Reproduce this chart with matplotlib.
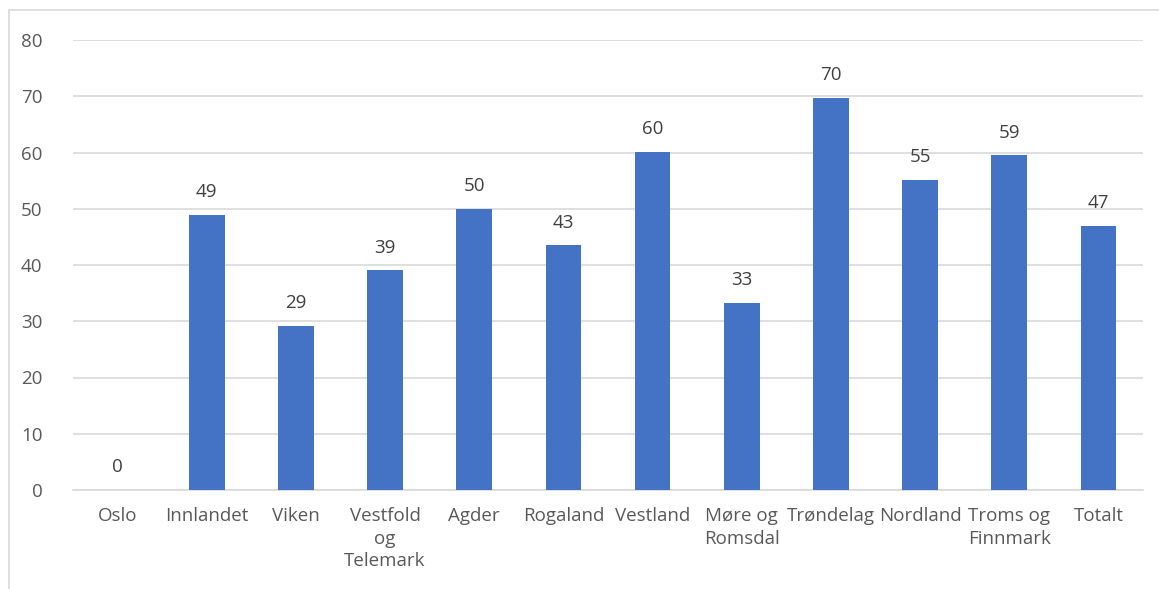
import matplotlib.pyplot as plt
from matplotlib.patches import Rectangle

categories = ["Oslo", "Innlandet", "Viken", "Vestfold\nog\nTelemark", "Agder", "Rogaland",
              "Vestland", "Møre og\nRomsdal", "Trøndelag", "Nordland", "Troms og\nFinnmark", "Totalt"]
values = [0, 48.9, 29.2, 39.1, 50.0, 43.5, 60.1, 33.3, 69.7, 55.2, 59.5, 47.0]
labels = ["0", "49", "29", "39", "50", "43", "60", "33", "70", "55", "59", "47"]

plt.rcParams['font.family'] = ['Open Sans', 'DejaVu Sans']
text_color = "#595959"

fig = plt.figure(figsize=(11.59, 5.89), dpi=100)
ax = fig.add_axes([73/1159, 99/589, 1070/1159, 450/589])

x = range(len(categories))
ax.bar(x, values, width=0.4, color="#4472C4", zorder=3)
for i, (v, lab) in enumerate(zip(values, labels)):
    ax.text(i, v + 2.4, lab, ha="center", va="bottom", fontsize=13.5, color="#404040")

ax.set_xlim(-0.5, len(categories) - 0.5)
ax.set_ylim(0, 80)
ax.set_yticks(range(0, 81, 10))
ax.yaxis.grid(True, color="#D9D9D9", linewidth=1.2, zorder=0)
ax.set_xticks(list(x))
ax.set_xticklabels(categories, fontsize=13.5, color=text_color, linespacing=1.35, va="top")
ax.tick_params(axis="y", labelsize=13.5, labelcolor=text_color, length=0, pad=22)
ax.tick_params(axis="x", length=0, pad=12)
for s in ["top", "right", "left"]:
    ax.spines[s].set_visible(False)
ax.spines["bottom"].set_color("#D9D9D9")
ax.spines["bottom"].set_linewidth(1.2)

fig.patches.append(Rectangle((9/1159, -0.1), 1.2, 1 - 10/589 + 0.1, transform=fig.transFigure,
                             fill=False, edgecolor="#D9D9D9", linewidth=1.2))

fig.savefig("out.png", dpi=100)
